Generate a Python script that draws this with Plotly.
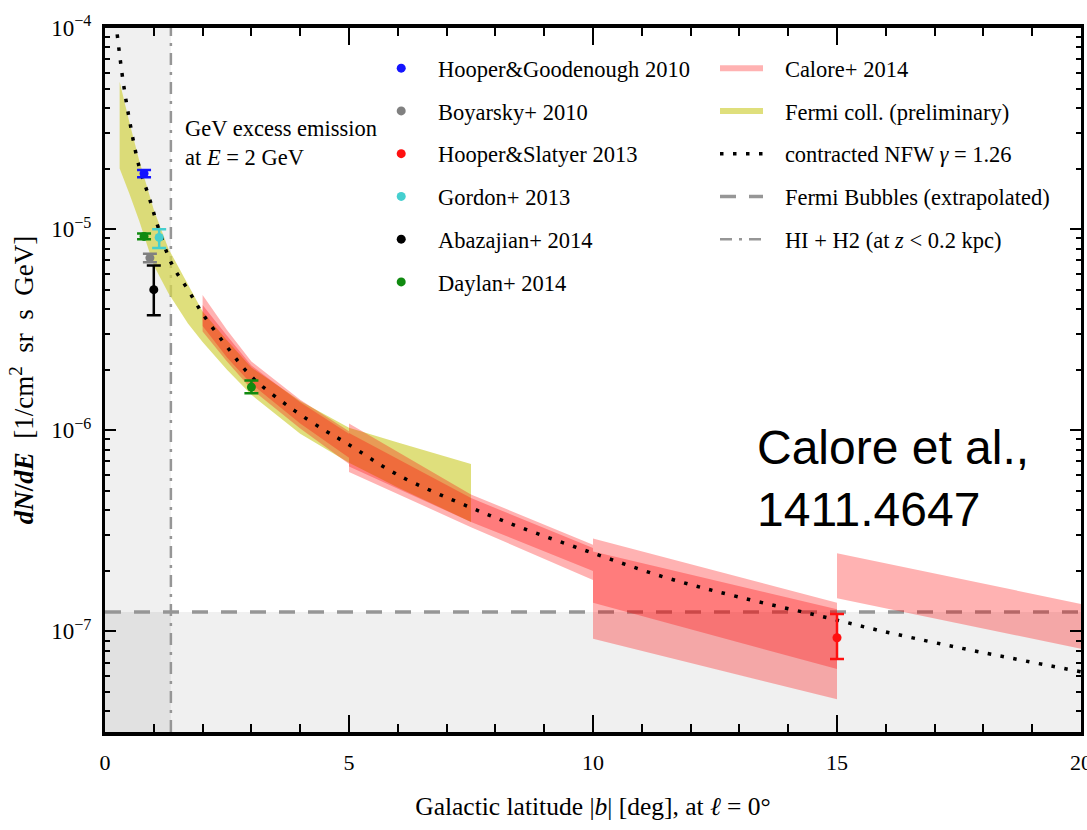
import plotly.graph_objects as go

# ---------------- axis limits ----------------
B_RANGE = [0.0, 20.0]
LOG_FLUX_RANGE = [-7.5, -4.0]

# ---------------- reference levels ----------------
fermi_bubbles_level = 1.25e-7   # Fermi bubbles (extrapolated)
hi_h2_latitude = 1.35           # |b| where z = 0.2 kpc

# ---------------- contracted NFW, gamma = 1.26 ----------------
nfw_b = [0.25, 0.37, 0.5, 0.7, 0.9, 1.09, 1.37, 1.7, 2.0, 2.5, 3.0, 3.79,
         4.5, 4.96, 6.0, 7.48, 8.5, 10.0, 11.5, 13.0, 14.8, 15.8, 17.5, 20.0]
nfw_flux = [9.3e-5, 5.45e-5, 3.5e-5, 2.04e-5, 1.45e-5, 1.02e-5, 6.7e-6, 5.0e-6,
            3.8e-6, 2.6e-6, 1.85e-6, 1.30e-6, 1.0e-6, 8.6e-7, 6.0e-7, 4.14e-7,
            3.3e-7, 2.45e-7, 1.85e-7, 1.48e-7, 1.17e-7, 1.02e-7, 8.3e-8, 6.3e-8]

# ---------------- Fermi collaboration (preliminary) ----------------
fermi_b = [0.3, 0.5, 0.7, 1.0, 1.3, 1.7, 2.0, 2.5, 3.0, 4.0, 5.0, 6.0, 7.5]
fermi_hi = [5.4e-5, 3.4e-5, 2.2e-5, 1.25e-5, 8.0e-6, 5.3e-6, 3.9e-6, 2.8e-6,
            2.05e-6, 1.4e-6, 1.03e-6, 8.7e-7, 6.8e-7]
fermi_lo = [2.0e-5, 1.5e-5, 1.1e-5, 6.6e-6, 4.8e-6, 3.4e-6, 2.75e-6, 2.0e-6,
            1.5e-6, 9.6e-7, 6.9e-7, 5.2e-7, 3.5e-7]

# ---------------- Calore+ 2014, two variants per latitude bin ----------------
calore_2_5_b = [2.0, 2.5, 3.0, 4.0, 5.0]
calore_2_5_a_hi = [4.7e-6, 3.15e-6, 2.2e-6, 1.42e-6, 9.9e-7]
calore_2_5_a_lo = [3.3e-6, 2.3e-6, 1.7e-6, 1.08e-6, 7.3e-7]
calore_2_5_b_hi = [4.2e-6, 2.95e-6, 2.1e-6, 1.38e-6, 9.6e-7]
calore_2_5_b_lo = [3.1e-6, 2.2e-6, 1.6e-6, 1.02e-6, 6.8e-7]

calore_5_10_b = [5.0, 7.5, 10.0]
calore_5_10_a_hi = [1.08e-6, 4.8e-7, 2.7e-7]
calore_5_10_a_lo = [6.6e-7, 3.5e-7, 2.0e-7]
calore_5_10_b_hi = [9.7e-7, 4.6e-7, 2.6e-7]
calore_5_10_b_lo = [6.2e-7, 3.3e-7, 1.8e-7]

calore_10_15_b = [10.0, 15.0]
calore_10_15_a_hi = [2.9e-7, 1.39e-7]
calore_10_15_a_lo = [1.39e-7, 6.5e-8]
calore_10_15_b_hi = [2.5e-7, 1.29e-7]
calore_10_15_b_lo = [9.2e-8, 4.6e-8]

calore_15_20_b = [15.0, 20.0]
calore_15_20_hi = [2.45e-7, 1.37e-7]
calore_15_20_lo = [1.46e-7, 8.2e-8]

# ---------------- published measurements ----------------
hg_b, hg_flux, hg_err = [0.80], [1.89e-5], [0.08e-5]
boy_b, boy_flux, boy_err = [0.92], [7.2e-6], [0.35e-6]
hs_b, hs_flux, hs_err_up, hs_err_dn = [15.0], [9.3e-8], [2.9e-8], [2.0e-8]
gor_b, gor_flux, gor_err_up, gor_err_dn = [1.11], [9.1e-6], [0.9e-6], [1.05e-6]
aba_b, aba_flux, aba_err_up, aba_err_dn = [1.0], [5.0e-6], [1.6e-6], [1.27e-6]
day_b, day_flux = [0.80, 3.0], [9.2e-6, 1.64e-6]
day_err_up, day_err_dn = [0.3e-6, 0.13e-6], [0.3e-6, 0.11e-6]

# ---------------- styles ----------------
SERIF = "Liberation Serif"
GREY_FILL = "rgba(0,0,0,0.058)"
CALORE_FILL = "rgba(255,0,0,0.30)"
FERMI_FILL = "rgba(212,212,80,0.75)"
PAD = "&nbsp;&nbsp;&nbsp;"   # gap between legend glyph and label

y_min = 10 ** LOG_FLUX_RANGE[0]
y_max = 10 ** LOG_FLUX_RANGE[1]

fig = go.Figure()


def band(b, hi, lo):
    """Closed polygon for a band between two edges."""
    return list(b) + list(b)[::-1], list(hi) + list(lo)[::-1]


# grey regions: below the Fermi-bubbles level and inside the gas layer
gx, gy = band(B_RANGE, [fermi_bubbles_level] * 2, [y_min] * 2)
fig.add_trace(go.Scatter(x=gx, y=gy, fill="toself", fillcolor=GREY_FILL,
                         mode="none", hoverinfo="skip", showlegend=False))
gx, gy = band([B_RANGE[0], hi_h2_latitude], [y_max] * 2, [y_min] * 2)
fig.add_trace(go.Scatter(x=gx, y=gy, fill="toself", fillcolor=GREY_FILL,
                         mode="none", hoverinfo="skip", showlegend=False))

# Fermi bubbles level
fig.add_trace(go.Scatter(
    x=B_RANGE, y=[fermi_bubbles_level] * 2, mode="lines",
    line=dict(color="rgb(150,150,150)", width=3.5, dash="16px,13px"),
    name=PAD + "Fermi Bubbles (extrapolated)", legend="legend2", legendrank=4,
    legendgroup="fb", hoverinfo="skip"))

# HI + H2 boundary
fig.add_trace(go.Scatter(
    x=[hi_h2_latitude] * 2, y=[y_min, y_max], mode="lines",
    line=dict(color="rgb(150,150,150)", width=2.5, dash="12px,7px,3px,7px"),
    name=PAD + "HI + H2 (at <i>z</i> &lt; 0.2 kpc)", legend="legend2",
    legendrank=5, legendgroup="gas", hoverinfo="skip"))

# Fermi collaboration band
fx, fy = band(fermi_b, fermi_hi, fermi_lo)
fig.add_trace(go.Scatter(
    x=fx, y=fy, fill="toself", fillcolor=FERMI_FILL, mode="none",
    name=PAD + "Fermi coll. (preliminary)", legend="legend2", legendrank=2,
    legendgroup="fermi", hoverinfo="skip"))

# Calore+ 2014 bands
calore_sets = [
    (calore_2_5_b, calore_2_5_a_hi, calore_2_5_a_lo),
    (calore_2_5_b, calore_2_5_b_hi, calore_2_5_b_lo),
    (calore_5_10_b, calore_5_10_a_hi, calore_5_10_a_lo),
    (calore_5_10_b, calore_5_10_b_hi, calore_5_10_b_lo),
    (calore_10_15_b, calore_10_15_a_hi, calore_10_15_a_lo),
    (calore_10_15_b, calore_10_15_b_hi, calore_10_15_b_lo),
    (calore_15_20_b, calore_15_20_hi, calore_15_20_lo),
]
for i, (b, hi, lo) in enumerate(calore_sets):
    cx, cy = band(b, hi, lo)
    fig.add_trace(go.Scatter(
        x=cx, y=cy, fill="toself", fillcolor=CALORE_FILL, mode="none",
        name=PAD + "Calore+ 2014", legend="legend2", legendrank=1,
        legendgroup="calore", showlegend=(i == 0), hoverinfo="skip"))

# contracted NFW profile
fig.add_trace(go.Scatter(
    x=nfw_b, y=nfw_flux, mode="lines", line_shape="spline",
    line=dict(color="black", width=3.5, dash="3.5px,9.5px"),
    name=PAD + "contracted NFW <i>γ</i> = 1.26", legend="legend2",
    legendrank=3, legendgroup="nfw", hoverinfo="skip"))

# measurements with error bars
points = [
    ("Hooper&amp;Goodenough 2010", "#1414ff", hg_b, hg_flux, hg_err, hg_err),
    ("Boyarsky+ 2010", "#808080", boy_b, boy_flux, boy_err, boy_err),
    ("Hooper&amp;Slatyer 2013", "#ff1010", hs_b, hs_flux, hs_err_up, hs_err_dn),
    ("Gordon+ 2013", "#45cfcf", gor_b, gor_flux, gor_err_up, gor_err_dn),
    ("Abazajian+ 2014", "#000000", aba_b, aba_flux, aba_err_up, aba_err_dn),
    ("Daylan+ 2014", "#108a10", day_b, day_flux, day_err_up, day_err_dn),
]
for rank, (name, col, b, f, eu, ed) in enumerate(points):
    fig.add_trace(go.Scatter(
        x=b, y=f, mode="markers", name=PAD + name, legend="legend",
        legendrank=rank + 1, legendgroup=name,
        marker=dict(color=col, size=9, symbol="circle"),
        error_y=dict(type="data", symmetric=False, array=eu, arrayminus=ed,
                     color=col, thickness=2.5, width=7),
        hoverinfo="skip"))

decades = [1e-7, 1e-6, 1e-5, 1e-4]
minor_vals = [d * 10.0 ** e for e in range(-8, -4) for d in range(2, 10)]

fig.update_layout(
    width=1087, height=830,
    margin=dict(l=105, r=6, t=28, b=98, autoexpand=False),
    paper_bgcolor="white", plot_bgcolor="white",
    font=dict(family=SERIF, color="black", size=22.5),
    xaxis=dict(
        range=B_RANGE, tickvals=[0, 5, 10, 15, 20], ticks="inside",
        ticklen=17, tickwidth=2, tickcolor="black",
        minor=dict(dtick=1, ticks="inside", ticklen=8, tickwidth=2,
                   tickcolor="black"),
        showline=True, linewidth=3.5, linecolor="black", mirror="ticks",
        showgrid=False, zeroline=False, ticklabelstandoff=8,
        ticklabeloverflow="allow", automargin=False,
        tickfont=dict(family=SERIF, size=22),
        title=dict(text="Galactic latitude |<i>b</i>| [deg], at <i>ℓ</i> = 0°",
                   font=dict(family=SERIF, size=25.5), standoff=24),
    ),
    yaxis=dict(
        type="log", range=LOG_FLUX_RANGE, tickvals=decades,
        ticktext=["10<sup>−7</sup>", "10<sup>−6</sup>", "10<sup>−5</sup>",
                  "10<sup>−4</sup>"],
        ticks="inside", ticklen=11, tickwidth=2, tickcolor="black",
        minor=dict(tickvals=minor_vals, ticks="inside", ticklen=5,
                   tickwidth=2, tickcolor="black"),
        showline=True, linewidth=3, linecolor="black", mirror="ticks",
        showgrid=False, zeroline=False, ticklabelstandoff=6,
        automargin=False,
        tickfont=dict(family=SERIF, size=23),
        title=dict(text="<b><i>dN</i>/<i>dE</i></b>  [1/cm<sup>2</sup>  sr  s  GeV]",
                   font=dict(family=SERIF, size=27), standoff=10),
    ),
    legend=dict(x=0.283, y=0.973, xanchor="left", yanchor="top",
                bgcolor="rgba(0,0,0,0)", traceorder="grouped",
                tracegroupgap=10.5, itemwidth=30,
                font=dict(family=SERIF, size=22.5)),
    legend2=dict(x=0.625, y=0.973, xanchor="left", yanchor="top",
                 bgcolor="rgba(0,0,0,0)", traceorder="grouped",
                 tracegroupgap=10.5, itemwidth=43,
                 font=dict(family=SERIF, size=22.5)),
    annotations=[
        dict(xref="paper", yref="paper", x=0.08, y=0.8366,
             xanchor="left", yanchor="middle", align="left", showarrow=False,
             text="GeV excess emission<br>at <i>E</i> = 2 GeV",
             font=dict(family=SERIF, size=22.5)),
        dict(xref="paper", yref="paper", x=0.666, y=0.36,
             xanchor="left", yanchor="middle", align="left", showarrow=False,
             text="Calore et al.,<br>1411.4647",
             font=dict(family="Liberation Sans", size=48)),
    ],
)

fig.write_html("out.html")
